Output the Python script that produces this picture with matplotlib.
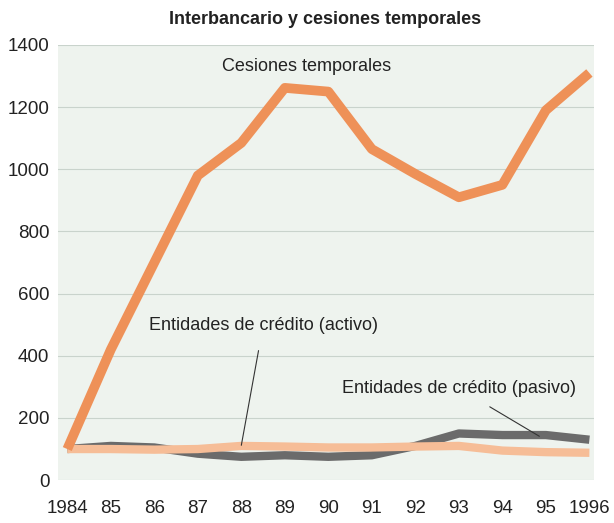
import matplotlib.pyplot as plt

plt.rcParams['font.family'] = ['Liberation Sans', 'DejaVu Sans']

# datos
years = [1984, 1985, 1986, 1987, 1988, 1989, 1990, 1991, 1992, 1993, 1994, 1995, 1996]
year_labels = ["1984", "85", "86", "87", "88", "89", "90", "91", "92", "93", "94", "95", "1996"]
cesiones = [100, 420, 700, 980, 1085, 1262, 1250, 1065, 985, 910, 950, 1190, 1310]
pasivo = [100, 110, 105, 85, 75, 80, 75, 80, 110, 150, 145, 145, 130]
activo = [100, 100, 98, 100, 110, 108, 105, 105, 108, 110, 95, 90, 88]

fig = plt.figure(figsize=(6.14, 5.23), dpi=100)
ax = fig.add_axes([0.094, 0.082, 0.873, 0.832])
ax.set_facecolor("#eef3ee")

ax.plot(years, pasivo, color="#6b6b6b", lw=6, solid_capstyle="butt", zorder=3)
ax.plot(years, activo, color="#f6bd97", lw=6, solid_capstyle="butt", zorder=4)
ax.plot(years, cesiones, color="#ee9158", lw=7, solid_capstyle="butt", zorder=5)

ax.set_xlim(1983.78, 1996.1)
ax.set_ylim(0, 1400)
ax.set_yticks(range(0, 1401, 200))
ax.set_xticks(years)
ax.set_xticklabels(year_labels)
ax.tick_params(length=0, labelsize=13.5, colors="#222222")
ax.tick_params(axis="x", pad=14)
ax.tick_params(axis="y", pad=6)
ax.grid(axis="y", color="#c9d3cc", lw=0.8)
ax.set_axisbelow(True)
for s in ax.spines.values():
    s.set_visible(False)

ax.text(1989.5, 1330, "Cesiones temporales", fontsize=13, ha="center", va="center",
        color="#222222", zorder=6)
ax.annotate("Entidades de crédito (activo)", xy=(1988.0, 112), xytext=(1988.5, 497),
            fontsize=13, ha="center", va="center", color="#222222", zorder=6,
            arrowprops=dict(arrowstyle="-", color="#333333", lw=0.8, shrinkA=10, shrinkB=0))
ax.annotate("Entidades de crédito (pasivo)", xy=(1994.85, 141), xytext=(1993.0, 295),
            fontsize=13, ha="center", va="center", color="#222222", zorder=6,
            arrowprops=dict(arrowstyle="-", color="#333333", lw=0.8, shrinkA=10, shrinkB=0))

fig.text(0.53, 0.962, "Interbancario y cesiones temporales", fontsize=13,
         fontweight="bold", ha="center", va="center", color="#222222")

fig.savefig("out.png", dpi=100)
